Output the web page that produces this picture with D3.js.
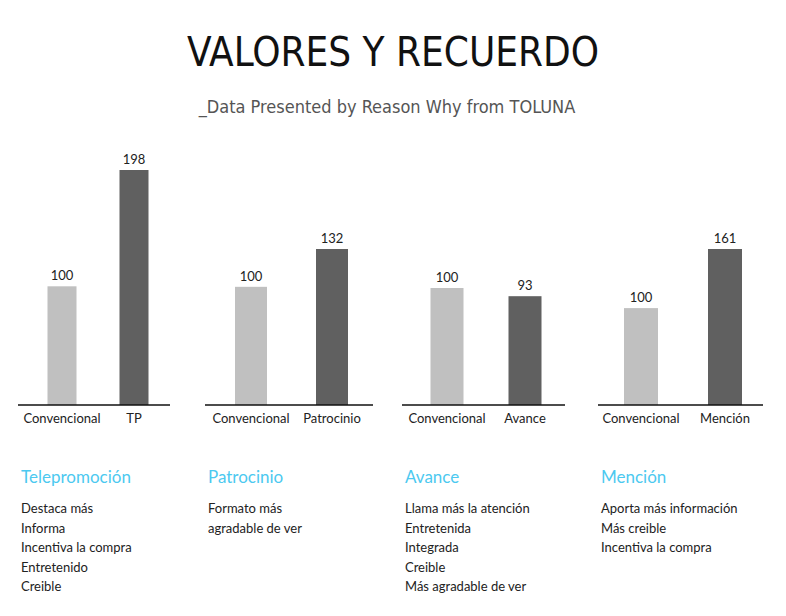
<!DOCTYPE html>
<html><head><meta charset="utf-8">
<script src="https://cdn.jsdelivr.net/npm/d3@7/dist/d3.min.js"></script>
<style>body{margin:0;background:#fff}</style></head>
<body><svg id="chart" width="786" height="616"></svg>
<script>
'use strict';

const panelTitles = ['Telepromoción', 'Patrocinio', 'Avance', 'Mención'];
const barLabels = [['Convencional', 'TP'], ['Convencional', 'Patrocinio'], ['Convencional', 'Avance'], ['Convencional', 'Mención']];
const barValues = [[100, 198], [100, 132], [100, 93], [100, 161]];
const notes = [
    ['Destaca más', 'Informa', 'Incentiva la compra', 'Entretenido', 'Creible'],
    ['Formato más', 'agradable de ver'],
    ['Llama más la atención', 'Entretenida', 'Integrada', 'Creible', 'Más agradable de ver'],
    ['Aporta más información', 'Más creible', 'Incentiva la compra']
];

// per-panel layout: axis extent, bar centres/width, top of tallest bar
const panels = [
    { x0: 18, x1: 170, centres: [62, 134], w: 29, top: 170 },
    { x0: 205, x1: 373, centres: [251, 332], w: 32, top: 249 },
    { x0: 402, x1: 565, centres: [447, 525], w: 33, top: 288 },
    { x0: 598, x1: 763, centres: [641, 725], w: 34, top: 249 }
];
const barColours = ['#c0c0c0', '#606060'];
const accent = '#4cc9f0';
const baseY = 405;
const textFont = 'Lato, "Open Sans", sans-serif';
const titleFont = '"Liberation Sans Narrow", "DejaVu Sans Condensed", sans-serif';

const svg = d3.select('#chart');

svg.append('text').attr('x', 393).attr('y', 66).attr('text-anchor', 'middle')
    .style('font-family', titleFont).style('font-size', '40px').style('font-weight', 300)
    .style('fill', '#111').text('VALORES Y RECUERDO');
svg.append('text').attr('x', 387).attr('y', 113).attr('text-anchor', 'middle')
    .style('font-family', titleFont).style('font-size', '18px').style('fill', '#555')
    .text('_Data Presented by Reason Why from TOLUNA');

panels.forEach((p, i) => {
    const vals = barValues[i];
    const maxV = d3.max(vals);
    // domain max mapped to top of tallest bar, as in the reference
    const y = d3.scaleLinear().domain([0, maxV === 100 ? 100 : maxV]).range([baseY, p.top]);
    const yScale = maxV === 100 ? y : y;
    const g = svg.append('g');

    g.selectAll('rect').data(vals).enter().append('rect')
        .attr('x', (d, j) => p.centres[j] - p.w / 2)
        .attr('width', p.w)
        .attr('y', d => yScale(d))
        .attr('height', d => baseY - yScale(d))
        .attr('fill', (d, j) => barColours[j]);

    g.selectAll('.val').data(vals).enter().append('text')
        .attr('x', (d, j) => p.centres[j]).attr('y', d => yScale(d) - 6)
        .attr('text-anchor', 'middle').style('font-family', textFont)
        .style('font-size', '13px').style('fill', '#222').text(d => d);

    g.append('line').attr('x1', p.x0).attr('x2', p.x1).attr('y1', baseY).attr('y2', baseY)
        .attr('stroke', '#111').attr('stroke-width', 1.5);

    g.selectAll('.lab').data(barLabels[i]).enter().append('text')
        .attr('x', (d, j) => p.centres[j]).attr('y', 423)
        .attr('text-anchor', 'middle').style('font-family', textFont)
        .style('font-size', '13px').style('fill', '#222').text(d => d);

    const tx = p.x0 + 3;
    g.append('text').attr('x', tx).attr('y', 483).style('font-family', textFont)
        .style('font-size', '17px').style('fill', accent).text(panelTitles[i]);

    g.selectAll('.note').data(notes[i]).enter().append('text')
        .attr('x', tx).attr('y', (d, k) => 513 + k * 19.5)
        .style('font-family', textFont).style('font-size', '13px').style('fill', '#222')
        .text(d => d);
});
</script></body></html>
